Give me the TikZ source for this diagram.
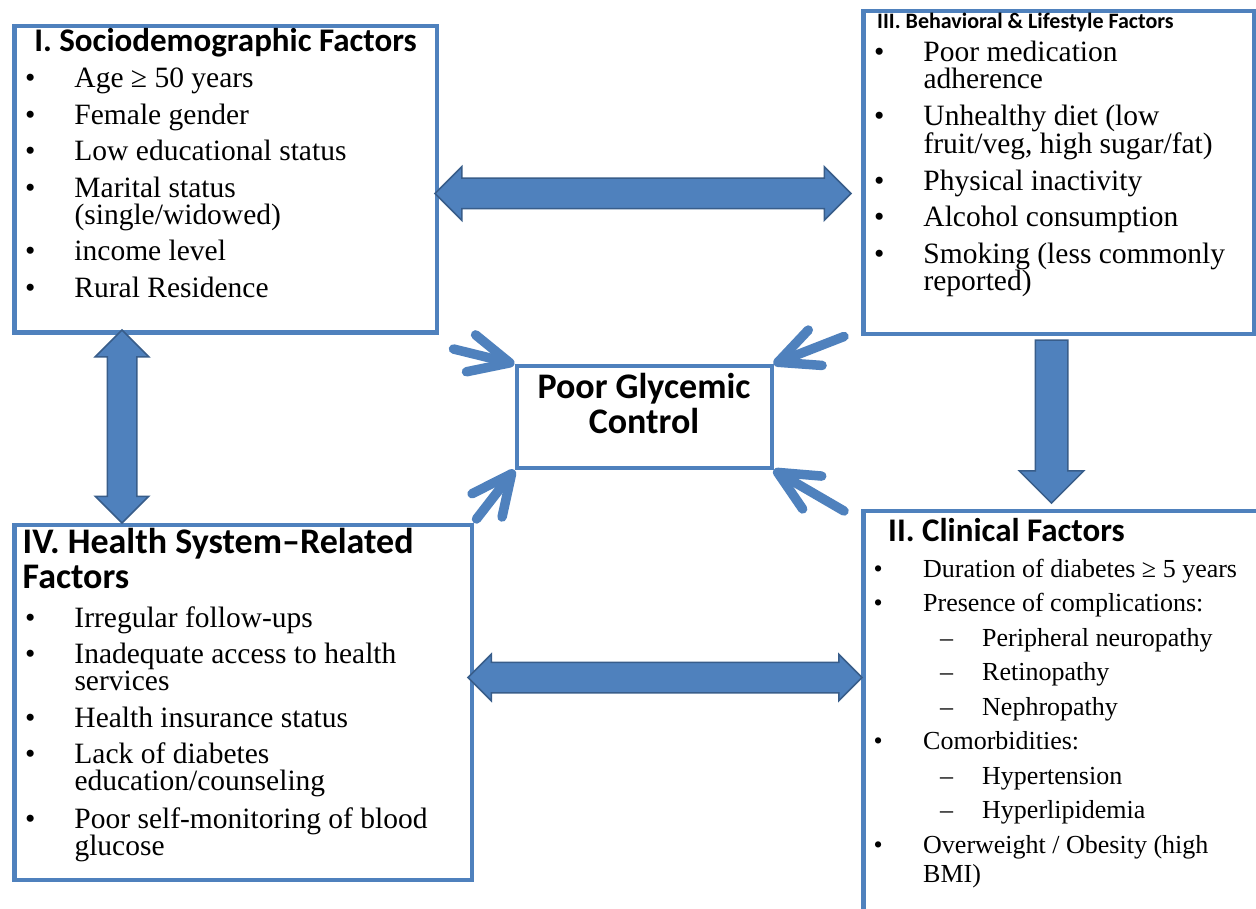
\documentclass[tikz,border=0pt]{standalone}
\usepackage{fontspec}
\setmainfont{Liberation Serif}
\newfontfamily\calibri{Carlito}
\usetikzlibrary{positioning, calc, shapes.arrows, arrows.meta}
\definecolor{boxblue}{RGB}{79,129,189}
\definecolor{arrline}{RGB}{56,93,138}

\newlength{\bulind}
\setlength{\bulind}{49.5pt}
\newcommand{\itm}[1]{\hangindent=\bulind\hangafter=1\noindent\makebox[\bulind][l]{\textbullet}#1\par}
\newcommand{\subitm}[1]{\noindent\hspace*{66.5pt}\makebox[42pt][l]{–}#1\par}
\newcommand{\bodyfont}{\fontsize{29.5}{27}\selectfont\setlength{\parskip}{9.5pt}\raggedright}
\newcommand{\clinfont}{\fontsize{26}{29}\selectfont\setlength{\parskip}{5.5pt}\raggedright}

\begin{document}
\begin{tikzpicture}[x=1pt, y=-1pt,
  factor/.style={draw=boxblue, line width=4.5pt, inner sep=0pt, anchor=north west},
  hub/.style={draw=boxblue, line width=4pt, inner sep=0pt, text height=33pt, text depth=69pt, anchor=north west, font=\calibri\bfseries},
  ttl/.style={inner sep=0pt, font=\calibri\bfseries},
  lst/.style={inner sep=0pt, anchor=base west},
  barr/.style={fill=boxblue, draw=arrline, line width=1.5pt, inner sep=14.5pt, minimum width=0pt},
  ptr/.style={draw=boxblue, line width=9.5pt, line cap=round, -{Straight Barb[length=40pt, width=38pt, round]}}]
  \path[use as bounding box, fill=white] (0,0) rectangle (1256,909);
  \clip (0,0) rectangle (1256,909);

  \node[factor, minimum width=422.5pt, minimum height=306.5pt] (soc) at (12,24) {};
  \node[factor, minimum width=391pt, minimum height=323pt] (beh) at (861,9) {};
  \node[factor, minimum width=457.5pt, minimum height=355pt] (hsys) at (12,522.5) {};
  \node[factor, minimum width=420pt, minimum height=430pt] (cli) at (861,508.5) {};
  \node[hub] (pgc) at (514.5,364) {\parbox[t]{255pt}{\centering\fontsize{36}{35}\selectfont Poor Glycemic\\Control}};

  \node[ttl, anchor=base, font=\calibri\bfseries\fontsize{33}{36}\selectfont] (socT) at (225.5,52) {I. Sociodemographic Factors};
  \node[ttl, anchor=base west, font=\calibri\bfseries\fontsize{22}{24}\selectfont] (behT) at (877,29) {III. Behavioral \& Lifestyle Factors};
  \node[ttl, anchor=base west, font=\calibri\bfseries\fontsize{33}{36}\selectfont] (cliT) at (888,541) {II. Clinical Factors};
  \node[ttl, anchor=base west] (hsysT) at (22.5,553) {\parbox[t]{440pt}{\fontsize{36}{35}\selectfont IV. Health System–Related\\Factors}};

  \node[lst] (socL) at (24.8,88) {\parbox[t]{410pt}{\bodyfont
    \itm{Age ≥ 50 years}
    \itm{Female gender}
    \itm{Low educational status}
    \itm{Marital status\newline (single/widowed)}
    \itm{income level}
    \itm{Rural Residence}}};
  \node[lst] (behL) at (873.8,62) {\parbox[t]{380pt}{\bodyfont
    \itm{Poor medication\newline adherence}
    \itm{Unhealthy diet (low\newline fruit/veg, high sugar/fat)}
    \itm{Physical inactivity}
    \itm{Alcohol consumption}
    \itm{Smoking (less commonly\newline reported)}}};
  \node[lst] (hsysL) at (24.8,627) {\parbox[t]{440pt}{\bodyfont
    \itm{Irregular follow-ups}
    \itm{Inadequate access to health\newline services}
    \itm{Health insurance status}
    \itm{Lack of diabetes\newline education/counseling}
    \itm{Poor self-monitoring of blood\newline glucose}}};
  \node[lst] (cliL) at (873.5,577) {\parbox[t]{400pt}{\clinfont
    \itm{Duration of diabetes ≥ 5 years}
    \itm{Presence of complications:}
    \subitm{Peripheral neuropathy}
    \subitm{Retinopathy}
    \subitm{Nephropathy}
    \itm{Comorbidities:}
    \subitm{Hypertension}
    \subitm{Hyperlipidemia}
    \itm{Overweight / Obesity (high\newline BMI)}}};

  \node[barr, double arrow, double arrow tip angle=90, double arrow head extend=11.5pt, minimum height=416pt] (arrSB) at (643,193.5) {};
  \node[barr, double arrow, double arrow tip angle=90, double arrow head extend=12pt, inner sep=14pt, minimum height=193pt, rotate=90] (arrSH) at (122,426.5) {};
  \node[barr, single arrow, single arrow tip angle=90, single arrow head extend=16pt, inner sep=15.5pt, minimum height=163pt, rotate=-90] (arrBC) at (1051.5,413.5) {};
  \node[barr, double arrow, double arrow tip angle=90, double arrow head extend=8pt, minimum height=394pt] (arrHC) at (665,677.5) {};

  \coordinate (tlT) at ($(soc.south east)+(14.5,14)$);
  \coordinate (blT) at ($(hsys.north east)+(2.5,-3.5)$);
  \coordinate (trT) at ($(beh.south west)+(-17,0)$);
  \coordinate (brT) at ($(cli.north west)+(-17,2.5)$);
  \draw[ptr] (tlT) -- (pgc.north west);
  \draw[ptr] (blT) -- (pgc.south west);
  \draw[ptr] (trT) -- (pgc.north east);
  \draw[ptr] (brT) -- (pgc.south east);
\end{tikzpicture}
\end{document}
